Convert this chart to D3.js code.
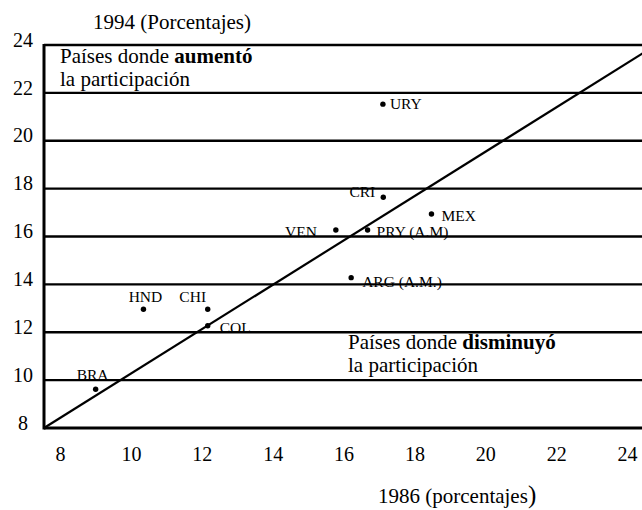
<!DOCTYPE html>
<html>
<head>
<meta charset="utf-8">
<script src="https://cdn.jsdelivr.net/npm/d3@7"></script>
<style>
  body { margin: 0; background: #fff; }
  svg { display: block; }
  svg text { font-family: "Liberation Serif", "Times New Roman", serif; fill: #000; }
</style>
</head>
<body>
<svg id="chart" width="642" height="510" font-family="Liberation Serif, serif"></svg>
<script>
// participation by country, 1986 (x) vs 1994 (y), percent
const countries = ['URY', 'CRI', 'MEX', 'VEN', 'PRY (A.M)', 'ARG (A.M.)', 'HND', 'CHI', 'COL', 'BRA'];
const share1986 = [16.86, 16.87, 18.13, 15.63, 16.46, 16.03, 10.60, 12.28, 12.28, 9.35];
const share1994 = [21.53, 17.64, 16.94, 16.27, 16.27, 14.28, 12.96, 12.96, 12.27, 9.62];

const xTicks = [8, 10, 12, 14, 16, 18, 20, 22, 24];
const yTicks = [8, 10, 12, 14, 16, 18, 20, 22, 24];

// where each label sits next to its dot
const labelPlace = {
  'URY':        { dx: 7,   dy: 5,  anchor: 'start' },
  'CRI':        { dx: -8,  dy: 0,  anchor: 'end' },
  'MEX':        { dx: 10,  dy: 7,  anchor: 'start' },
  'VEN':        { dx: -19, dy: 7,  anchor: 'end' },
  'PRY (A.M)':  { dx: 9,   dy: 7,  anchor: 'start' },
  'ARG (A.M.)': { dx: 11,  dy: 9,  anchor: 'start' },
  'HND':        { dx: 2,   dy: -7, anchor: 'middle' },
  'CHI':        { dx: -15, dy: -7, anchor: 'middle' },
  'COL':        { dx: 12,  dy: 7,  anchor: 'start' },
  'BRA':        { dx: -3,  dy: -9, anchor: 'middle' }
};

const serif = '"Liberation Serif", "Times New Roman", serif';
const points = countries.map((c, i) => ({ name: c, x: share1986[i], y: share1994[i] }));

const svg = d3.select('#chart');

const x = d3.scaleLinear().domain([8, 24]).range([44, 656]);
const y = d3.scaleLinear().domain([8, 24]).range([428, 45]);
// the printed tick labels are not spaced like the plot itself
const xLabel = d3.scaleLinear().domain([8, 24]).range([60, 627]);

// point labels first, so the grid lines run over them like in the original
svg.append('g').selectAll('text')
  .data(points)
  .join('text')
    .attr('x', d => x(d.x) + labelPlace[d.name].dx)
    .attr('y', d => y(d.y) + labelPlace[d.name].dy)
    .attr('text-anchor', d => labelPlace[d.name].anchor)
    .attr('font-family', serif)
    .attr('font-size', '15.5px')
    .text(d => d.name);

// horizontal grid
svg.append('g').selectAll('line')
  .data(yTicks.filter(v => v > 8))
  .join('line')
    .attr('x1', x(8)).attr('x2', x(24))
    .attr('y1', d => y(d)).attr('y2', d => y(d))
    .attr('stroke', '#000').attr('stroke-width', 2.3);

// axis frame
svg.append('line')
  .attr('x1', x(8)).attr('x2', x(24)).attr('y1', y(8)).attr('y2', y(8))
  .attr('stroke', '#000').attr('stroke-width', 2.8);
svg.append('line')
  .attr('x1', x(8)).attr('x2', x(8)).attr('y1', y(24) - 1).attr('y2', y(8) + 1.4)
  .attr('stroke', '#000').attr('stroke-width', 3);

// 45 degree line
svg.append('line')
  .attr('x1', x(8)).attr('y1', y(8))
  .attr('x2', x(24)).attr('y2', y(24))
  .attr('stroke', '#000').attr('stroke-width', 2.2);

svg.append('g').selectAll('circle')
  .data(points)
  .join('circle')
    .attr('cx', d => x(d.x))
    .attr('cy', d => y(d.y))
    .attr('r', 2.7)
    .attr('fill', '#000');

// tick labels
const xAxis = svg.append('g')
  .attr('transform', 'translate(0,447)')
  .call(d3.axisBottom(xLabel).tickValues(xTicks).tickSize(0).tickPadding(0));
xAxis.select('.domain').remove();
xAxis.selectAll('text')
  .attr('font-family', serif)
  .attr('font-size', '20px')
  .attr('fill', '#000');

const yAxis = svg.append('g')
  .attr('transform', 'translate(23,0)')
  .call(d3.axisLeft(y).tickValues(yTicks).tickSize(0).tickPadding(0));
yAxis.select('.domain').remove();
yAxis.selectAll('text')
  .attr('text-anchor', 'middle')
  .attr('dy', '0.06em')
  .attr('font-family', serif)
  .attr('font-size', '20px')
  .attr('fill', '#000');

// titles and notes
svg.append('text')
  .attr('x', 93).attr('y', 29)
  .attr('font-family', serif)
  .attr('font-size', '21px')
  .text('1994 (Porcentajes)');

const up = svg.append('text').attr('font-family', serif).attr('font-size', '21px');
up.append('tspan').attr('x', 60).attr('y', 63).text('Países donde ');
up.append('tspan').attr('font-weight', 'bold').text('aumentó');
up.append('tspan').attr('x', 60).attr('y', 86).text('la participación');

const down = svg.append('text').attr('font-family', serif).attr('font-size', '21px');
down.append('tspan').attr('x', 348).attr('y', 349).text('Países donde ');
down.append('tspan').attr('font-weight', 'bold').text('disminuyó');
down.append('tspan').attr('x', 348).attr('y', 372).text('la participación');

const xTitle = svg.append('text')
  .attr('x', 378).attr('y', 503)
  .attr('font-family', serif)
  .attr('font-size', '21px');
xTitle.append('tspan').text('1986 (porcentajes');
xTitle.append('tspan').attr('font-size', '25px').text(')');
</script>
</body>
</html>
